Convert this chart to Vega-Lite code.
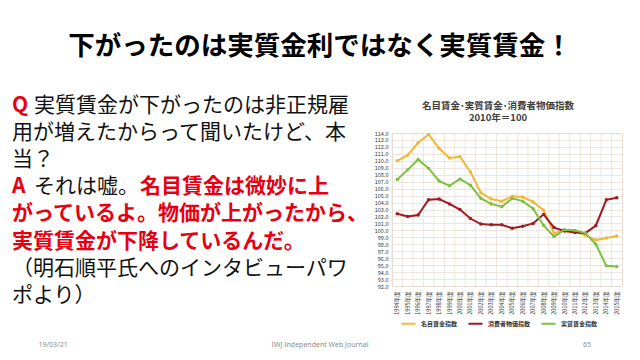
{
  "$schema": "https://vega.github.io/schema/vega-lite/v6.json",
  "padding": {"left": 12, "top": 34, "right": 0, "bottom": 0},
  "background": "white",
  "title": {"text": "下がったのは実質金利ではなく実質賃金！", "fontSize": 26.5, "font": "Noto Sans CJK JP", "fontWeight": "bold", "color": "#000000", "anchor": "middle", "offset": 34},
  "config": {"view": {"stroke": null}, "font": "Noto Sans CJK JP"},
  "spacing": 11,
  "resolve": {"legend": {"color": "independent"}, "scale": {"color": "independent"}},
  "datasets": {
    "slide": [
      {"line": 1, "seg": 1, "kind": "marker", "text": "Q"},
      {"line": 1, "seg": 2, "kind": "body", "text": "実質賃金が下がったのは非正規雇"},
      {"line": 2, "seg": 1, "kind": "body", "text": "用が増えたからって聞いたけど、本"},
      {"line": 3, "seg": 1, "kind": "body", "text": "当？"},
      {"line": 4, "seg": 1, "kind": "marker", "text": "A"},
      {"line": 4, "seg": 2, "kind": "body", "text": "それは嘘。"},
      {"line": 4, "seg": 3, "kind": "highlight", "text": "名目賃金は微妙に上"},
      {"line": 5, "seg": 1, "kind": "highlight", "text": "がっているよ。物価が上がったから、"},
      {"line": 6, "seg": 1, "kind": "highlight", "text": "実質賃金が下降しているんだ。"},
      {"line": 7, "seg": 1, "kind": "body", "text": "（明石順平氏へのインタビューパワ"},
      {"line": 8, "seg": 1, "kind": "body", "text": "ポより）"}
    ],
    "footer": [
      {"item": "19/03/21"},
      {"item": "IWJ  Independent Web Journal"},
      {"item": "65"}
    ],
    "wage": [
      {"year": "1994年度", "series": "名目賃金指数", "value": 110.0},
      {"year": "1995年度", "series": "名目賃金指数", "value": 110.8},
      {"year": "1996年度", "series": "名目賃金指数", "value": 112.6},
      {"year": "1997年度", "series": "名目賃金指数", "value": 113.8},
      {"year": "1998年度", "series": "名目賃金指数", "value": 111.8},
      {"year": "1999年度", "series": "名目賃金指数", "value": 110.4},
      {"year": "2000年度", "series": "名目賃金指数", "value": 110.6},
      {"year": "2001年度", "series": "名目賃金指数", "value": 108.4},
      {"year": "2002年度", "series": "名目賃金指数", "value": 105.4},
      {"year": "2003年度", "series": "名目賃金指数", "value": 104.5},
      {"year": "2004年度", "series": "名目賃金指数", "value": 104.2},
      {"year": "2005年度", "series": "名目賃金指数", "value": 104.9},
      {"year": "2006年度", "series": "名目賃金指数", "value": 104.8},
      {"year": "2007年度", "series": "名目賃金指数", "value": 104.1},
      {"year": "2008年度", "series": "名目賃金指数", "value": 102.9},
      {"year": "2009年度", "series": "名目賃金指数", "value": 99.6},
      {"year": "2010年度", "series": "名目賃金指数", "value": 100.0},
      {"year": "2011年度", "series": "名目賃金指数", "value": 99.9},
      {"year": "2012年度", "series": "名目賃金指数", "value": 99.3},
      {"year": "2013年度", "series": "名目賃金指数", "value": 98.6},
      {"year": "2014年度", "series": "名目賃金指数", "value": 98.9},
      {"year": "2015年度", "series": "名目賃金指数", "value": 99.2},
      {"year": "1994年度", "series": "消費者物価指数", "value": 102.4},
      {"year": "1995年度", "series": "消費者物価指数", "value": 102.0},
      {"year": "1996年度", "series": "消費者物価指数", "value": 102.2},
      {"year": "1997年度", "series": "消費者物価指数", "value": 104.4},
      {"year": "1998年度", "series": "消費者物価指数", "value": 104.5},
      {"year": "1999年度", "series": "消費者物価指数", "value": 103.8},
      {"year": "2000年度", "series": "消費者物価指数", "value": 103.0},
      {"year": "2001年度", "series": "消費者物価指数", "value": 101.7},
      {"year": "2002年度", "series": "消費者物価指数", "value": 100.9},
      {"year": "2003年度", "series": "消費者物価指数", "value": 100.8},
      {"year": "2004年度", "series": "消費者物価指数", "value": 100.8},
      {"year": "2005年度", "series": "消費者物価指数", "value": 100.3},
      {"year": "2006年度", "series": "消費者物価指数", "value": 100.6},
      {"year": "2007年度", "series": "消費者物価指数", "value": 101.0},
      {"year": "2008年度", "series": "消費者物価指数", "value": 102.3},
      {"year": "2009年度", "series": "消費者物価指数", "value": 100.4},
      {"year": "2010年度", "series": "消費者物価指数", "value": 99.9},
      {"year": "2011年度", "series": "消費者物価指数", "value": 99.7},
      {"year": "2012年度", "series": "消費者物価指数", "value": 99.6},
      {"year": "2013年度", "series": "消費者物価指数", "value": 100.7},
      {"year": "2014年度", "series": "消費者物価指数", "value": 104.4},
      {"year": "2015年度", "series": "消費者物価指数", "value": 104.7},
      {"year": "1994年度", "series": "実質賃金指数", "value": 107.3},
      {"year": "1995年度", "series": "実質賃金指数", "value": 108.7},
      {"year": "1996年度", "series": "実質賃金指数", "value": 110.2},
      {"year": "1997年度", "series": "実質賃金指数", "value": 108.9},
      {"year": "1998年度", "series": "実質賃金指数", "value": 107.1},
      {"year": "1999年度", "series": "実質賃金指数", "value": 106.4},
      {"year": "2000年度", "series": "実質賃金指数", "value": 107.4},
      {"year": "2001年度", "series": "実質賃金指数", "value": 106.5},
      {"year": "2002年度", "series": "実質賃金指数", "value": 104.6},
      {"year": "2003年度", "series": "実質賃金指数", "value": 103.8},
      {"year": "2004年度", "series": "実質賃金指数", "value": 103.4},
      {"year": "2005年度", "series": "実質賃金指数", "value": 104.6},
      {"year": "2006年度", "series": "実質賃金指数", "value": 104.2},
      {"year": "2007年度", "series": "実質賃金指数", "value": 103.1},
      {"year": "2008年度", "series": "実質賃金指数", "value": 100.7},
      {"year": "2009年度", "series": "実質賃金指数", "value": 99.1},
      {"year": "2010年度", "series": "実質賃金指数", "value": 100.1},
      {"year": "2011年度", "series": "実質賃金指数", "value": 100.0},
      {"year": "2012年度", "series": "実質賃金指数", "value": 99.6},
      {"year": "2013年度", "series": "実質賃金指数", "value": 98.0},
      {"year": "2014年度", "series": "実質賃金指数", "value": 94.9},
      {"year": "2015年度", "series": "実質賃金指数", "value": 94.8}
    ]
  },
  "vconcat": [
    {
      "bounds": "flush",
      "spacing": 50,
      "resolve": {"legend": {"color": "independent"}, "scale": {"color": "independent"}},
      "hconcat": [
        {
          "width": 330,
          "height": 190,
          "data": {"name": "slide"},
          "encoding": {
            "x": {"value": 0},
            "y": {"field": "line", "type": "quantitative", "scale": {"domain": [2, 9], "reverse": true, "nice": false, "zero": false}, "axis": null},
            "text": {"field": "text"}
          },
          "layer": [
            {
              "transform": [{"filter": "datum.kind !== 'body' && datum.seg === 1"}],
              "mark": {"type": "text", "align": "left", "baseline": "middle", "fontSize": 21, "fontWeight": "bold", "font": "Noto Sans CJK JP", "color": "#E60012"}
            },
            {
              "transform": [{"filter": "datum.kind === 'highlight' && datum.seg === 3"}],
              "mark": {"type": "text", "align": "left", "baseline": "middle", "fontSize": 21, "fontWeight": "bold", "font": "Noto Sans CJK JP", "color": "#E60012", "dx": 128}
            },
            {
              "transform": [{"filter": "datum.kind === 'body' && datum.seg === 1"}],
              "mark": {"type": "text", "align": "left", "baseline": "middle", "fontSize": 21, "fontWeight": "normal", "font": "Noto Sans CJK JP", "color": "#111111"}
            },
            {
              "transform": [{"filter": "datum.kind === 'body' && datum.seg === 2"}],
              "mark": {"type": "text", "align": "left", "baseline": "middle", "fontSize": 21, "fontWeight": "normal", "font": "Noto Sans CJK JP", "color": "#111111", "dx": 22}
            }
          ]
        },
        {
          "width": 230,
          "height": 153,
          "view": {"stroke": "#E6D9CF"},
          "title": {"text": "名目賃金･実質賃金･消費者物価指数", "subtitle": "2010年＝100", "fontSize": 9.5, "fontWeight": "bold", "color": "#404040", "subtitleFontSize": 9.5, "subtitleFontWeight": "bold", "subtitleColor": "#404040", "subtitleFont": "Noto Sans CJK JP", "subtitlePadding": 2, "offset": 8, "dx": -9, "anchor": "middle", "font": "Noto Sans CJK JP"},
          "data": {"name": "wage"},
          "layer": [
            {
              "transform": [{"filter": "datum.series === '名目賃金指数'"}],
              "mark": {"type": "rule", "color": "#EADFD6", "strokeWidth": 0.8},
              "encoding": {
                "x": {"field": "year", "type": "ordinal", "sort": null, "bandPosition": 0, "scale": {"type": "band", "paddingInner": 0, "paddingOuter": 0}}
              }
            },
            {
              "mark": {"type": "line", "strokeWidth": 2, "point": {"filled": true, "size": 12}},
              "encoding": {
                "x": {
                  "field": "year", "type": "ordinal", "sort": null,
                  "scale": {"type": "band", "paddingInner": 0, "paddingOuter": 0},
                  "axis": {"title": null, "labelAngle": -90, "labelFontSize": 5.5, "labelColor": "#333333", "ticks": false, "domain": false, "grid": false, "labelPadding": 5}
                },
                "y": {
                  "field": "value", "type": "quantitative",
                  "scale": {"domain": [92, 114], "nice": false, "zero": false},
                  "axis": {"title": null, "values": [92, 93, 94, 95, 96, 97, 98, 99, 100, 101, 102, 103, 104, 105, 106, 107, 108, 109, 110, 111, 112, 113, 114], "format": ".1f", "labelFontSize": 5.5, "labelColor": "#333333", "ticks": false, "domain": false, "labelPadding": 4, "gridColor": "#EADFD6", "gridWidth": 0.8}
                },
                "color": {
                  "field": "series", "type": "nominal",
                  "scale": {"domain": ["名目賃金指数", "消費者物価指数", "実質賃金指数"], "range": ["#F0B83A", "#9E1B22", "#7DC043"]},
                  "legend": {"orient": "none", "legendX": 8, "legendY": 182, "direction": "horizontal", "title": null, "symbolType": "stroke", "symbolStrokeWidth": 2, "symbolSize": 200, "labelFontSize": 6, "labelFontWeight": "bold", "labelColor": "#333333", "columnPadding": 6}
                }
              }
            }
          ]
        }
      ]
    },
    {
      "width": 616,
      "height": 10,
      "data": {"name": "footer"},
      "mark": {"type": "text", "fontSize": 7, "color": "#8c8c8c", "font": "Noto Sans", "baseline": "middle"},
      "encoding": {
        "x": {"field": "item", "type": "nominal", "sort": null, "scale": {"type": "point", "padding": 0.154}, "axis": null},
        "text": {"field": "item"}
      }
    }
  ]
}
